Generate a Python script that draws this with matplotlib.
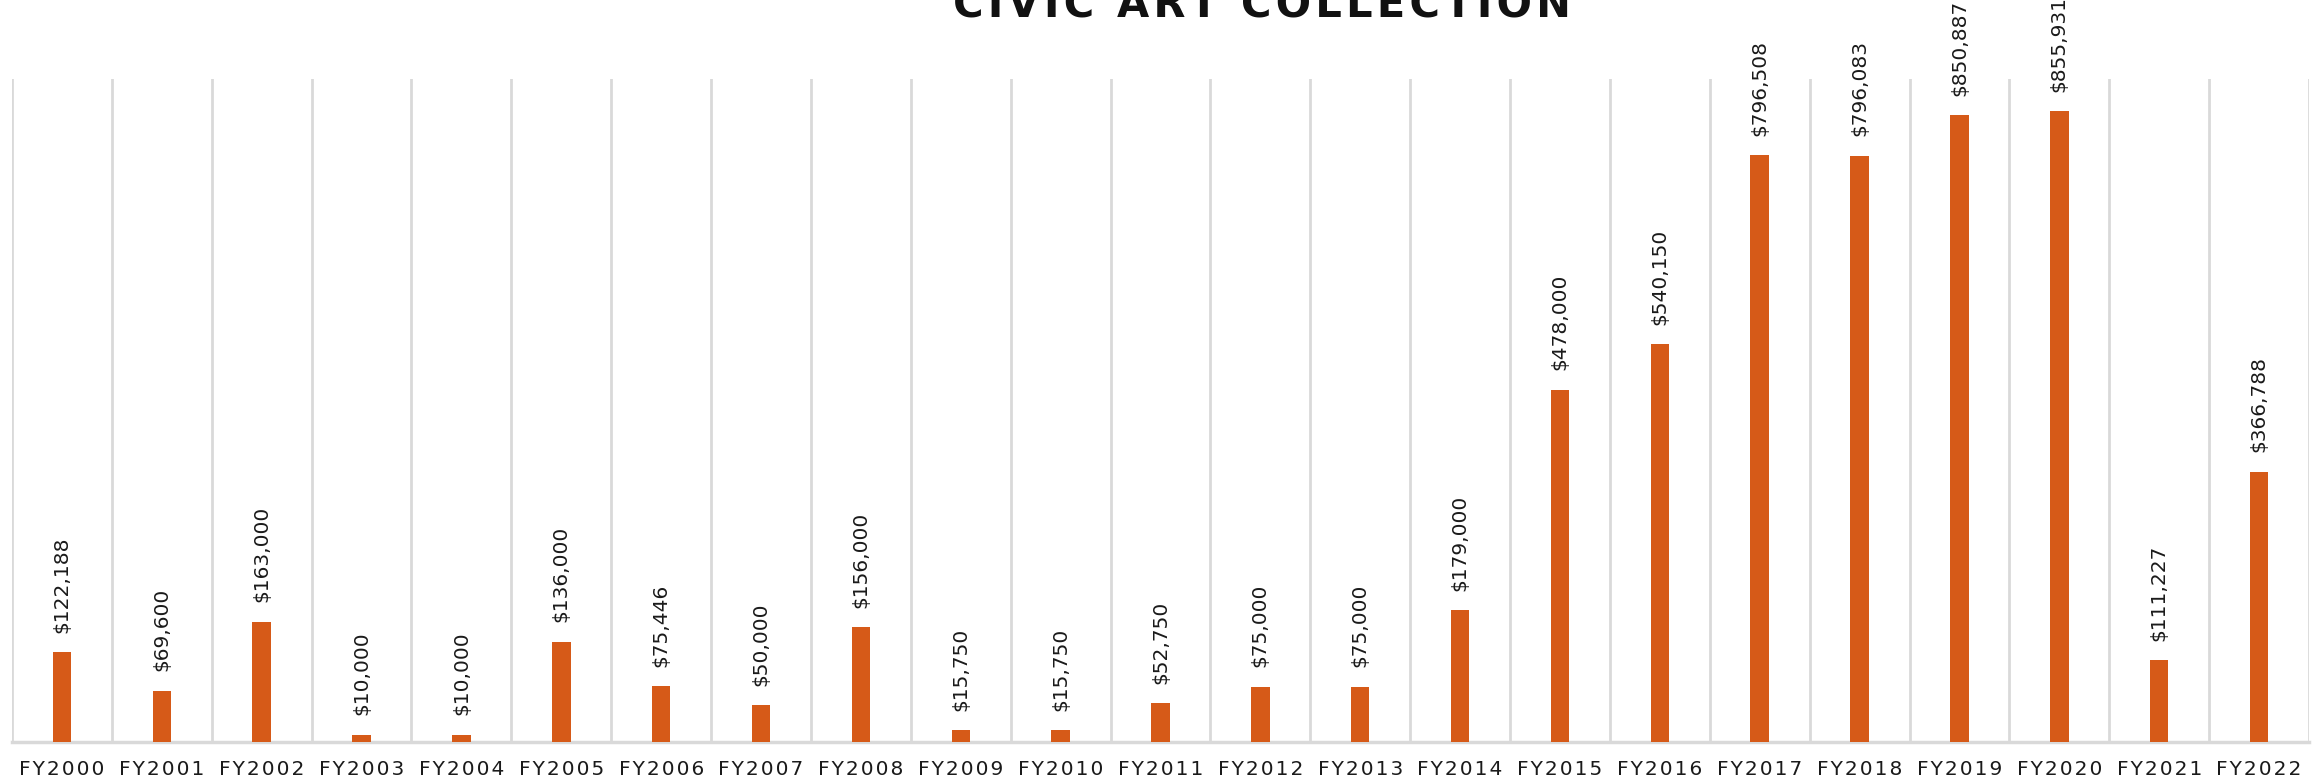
import numpy as np
import matplotlib
matplotlib.use('Agg')
import matplotlib.pyplot as plt

years = ['FY2000', 'FY2001', 'FY2002', 'FY2003', 'FY2004', 'FY2005', 'FY2006',
         'FY2007', 'FY2008', 'FY2009', 'FY2010', 'FY2011', 'FY2012', 'FY2013',
         'FY2014', 'FY2015', 'FY2016', 'FY2017', 'FY2018', 'FY2019', 'FY2020',
         'FY2021', 'FY2022']
amounts = [122188, 69600, 163000, 10000, 10000, 136000, 75446,
           50000, 156000, 15750, 15750, 52750, 75000, 75000,
           179000, 478000, 540150, 796508, 796083, 850887, 855931,
           111227, 366788]

bar_color = '#D65A18'
grid_color = '#D9D9D9'
text_color = '#1a1a1a'

fig = plt.figure(figsize=(23.18, 7.84), dpi=100)
ax = fig.add_axes([12/2318, 42/784, (2309-12)/2318, (742-79)/784])
renderer = fig.canvas.get_renderer()


def text_width(s, **kw):
    t = fig.text(0, 0, s, **kw)
    w = t.get_window_extent(renderer).width
    t.remove()
    return w


# pick a separator so the tick labels get the letter spacing of the original
tick_kw = dict(fontsize=14.5, family='DejaVu Sans')
best = ''
for sep in ['', '\u200a', '\u2009', '\u2006']:
    if abs(text_width(sep.join('FY2000'), **tick_kw) - 84) < \
            abs(text_width(best.join('FY2000'), **tick_kw) - 84):
        best = sep
tick_sep = best

x = np.arange(len(years))
ax.bar(x, amounts, width=0.185, color=bar_color, zorder=3)

# value labels above the bars
for xi, v in zip(x, amounts):
    ax.annotate('${:,}'.format(v), (xi, v), xytext=(0, 14),
                textcoords='offset points', rotation=90, ha='center',
                va='bottom', fontsize=14.5, color=text_color,
                annotation_clip=False, zorder=4)

ax.set_xlim(-0.5, len(years) - 0.5)
ax.set_ylim(0, 900000)

# category separators
for b in np.arange(len(years) + 1) - 0.5:
    ax.axvline(b, color=grid_color, lw=2, zorder=1)

for sp in ['top', 'right', 'left']:
    ax.spines[sp].set_visible(False)
ax.spines['bottom'].set_color(grid_color)
ax.spines['bottom'].set_linewidth(2.5)

ax.set_yticks([])
ax.set_xticks(x)
ax.set_xticklabels([tick_sep.join(y) for y in years], color=text_color, **tick_kw)
ax.tick_params(axis='x', length=0, pad=13)

fig.text(1262/2318, 1 - 18/784, '\u200a'.join('CIVIC ART COLLECTION'),
         ha='center', va='baseline', fontsize=30, fontweight='bold',
         color='#111111')

fig.savefig('out.png', dpi=100)
